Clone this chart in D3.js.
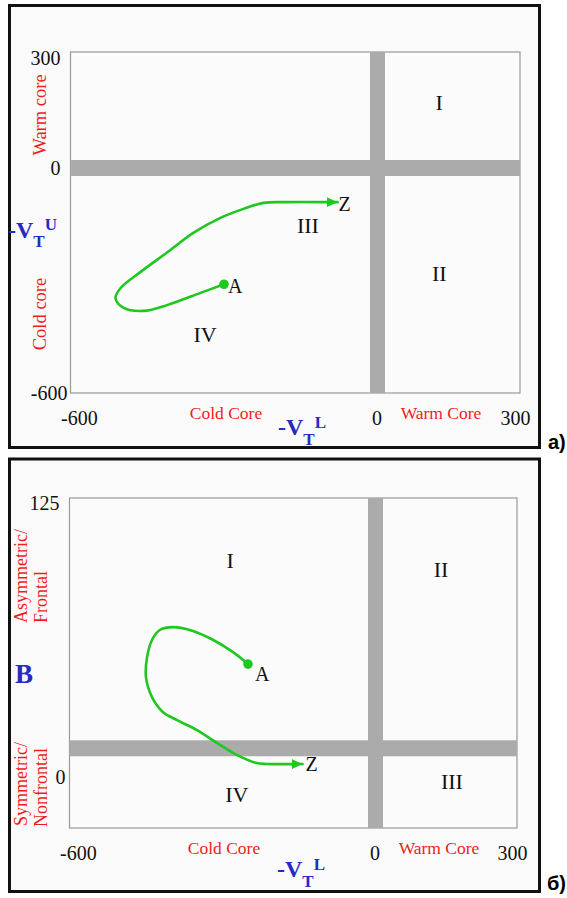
<!DOCTYPE html>
<html><head><meta charset="utf-8">
<script src="https://cdn.jsdelivr.net/npm/d3@7/dist/d3.min.js"></script>
<style>body{margin:0;background:#fff}svg{display:block}</style>
</head><body>
<svg id="c" width="567" height="898"></svg>
<script>
// ---------- data ----------
const xTicks = [-600, 0, 300];
const yTicksA = [-600, 0, 300];
const yTicksB = [0, 125];
const quadNames = ["I", "II", "III", "IV"];
// panel a: -VT^L vs -VT^U
const trackAx = [-300, -346, -410, -457, -496, -512, -502, -463, -410, -360, -307, -262, -223, -176, -92, -78];
const trackAy = [-310, -333, -365, -381, -373, -347, -320, -277, -224, -173, -133, -109, -93, -91, -91, -91];
const quadAx = [130, 130, -136, -337];
const quadAy = [170, -280, -152, -443];
const bandAx = 0, bandAy = 0;
// panel b: -VT^L vs B
const trackBx = [-250, -280, -319, -358, -397, -423, -438, -448, -450, -438, -417, -390, -350, -311, -272, -233, -213, -143];
const trackBy = [50, 55.5, 61, 65, 66.7, 65.4, 61, 53, 44, 35, 28.4, 24.8, 20.2, 14.4, 9, 5.3, 4.9, 4.9];
const quadBx = [-285, 139, 162, -272];
const quadBy = [97, 93, -3, -9];
const bandBx = 0, bandBy = 12;

// ---------- style ----------
const SERIF = "'Liberation Serif','Times New Roman',serif";
const RED = "#f01c1c", BLUE = "#2828c4", GREEN = "#1ec81e", BAND = "#ababab";
const fmt = d => String(d); // plain hyphen-minus as in the original

const svg = d3.select("#c");
svg.append("defs").append("marker")
  .attr("id", "arr").attr("markerUnits", "userSpaceOnUse")
  .attr("markerWidth", 12).attr("markerHeight", 10)
  .attr("refX", 11).attr("refY", 5).attr("orient", "auto")
  .append("path").attr("d", "M0,0L11,5L0,10Z").attr("fill", GREEN);

function panel(cfg) {
  const g = svg.append("g");
  // outer frame
  g.append("rect").attr("x", cfg.frame[0]).attr("y", cfg.frame[1])
    .attr("width", cfg.frame[2]).attr("height", cfg.frame[3])
    .attr("fill", "#fafafa").attr("stroke", "#111").attr("stroke-width", 3);
  const x = cfg.x, y = cfg.y;
  const [x0, x1] = [x.range()[0], x.range()[x.range().length - 1]];
  const yr = y.range();
  const [yb, yt] = [yr[0], yr[yr.length - 1]];
  // plot box
  g.append("rect").attr("x", x0).attr("y", yt).attr("width", x1 - x0).attr("height", yb - yt)
    .attr("fill", "#fbfbfb").attr("stroke", "#999").attr("stroke-width", 1.2);
  // bands
  g.append("rect").attr("x", x(cfg.bandX) - 7.5).attr("y", yt).attr("width", 15).attr("height", yb - yt)
    .attr("fill", BAND);
  g.append("rect").attr("x", x0).attr("y", y(cfg.bandY) - 8).attr("width", x1 - x0).attr("height", 16)
    .attr("fill", BAND);
  // axes
  const ax = g.append("g").attr("transform", `translate(0,${yb})`)
    .call(d3.axisBottom(x).tickValues(xTicks).tickSize(0).tickPadding(cfg.xPad).tickFormat(fmt));
  ax.select(".domain").remove();
  ax.selectAll("text").attr("font-family", SERIF).attr("font-size", 20).attr("fill", "#111")
    .attr("text-anchor", (d, i) => i === 0 ? "start" : i === xTicks.length - 1 ? "end" : "middle")
    .attr("dx", (d, i) => i === 0 ? -10 : i === xTicks.length - 1 ? 10 : -1);
  const ay = g.append("g").attr("transform", `translate(${x0},0)`)
    .call(d3.axisLeft(y).tickValues(cfg.yTicks).tickSize(0).tickPadding(10).tickFormat(fmt));
  ay.select(".domain").remove();
  ay.selectAll("text").attr("font-family", SERIF).attr("font-size", 20).attr("fill", "#111")
    .attr("dx", cfg.yDx).attr("dy", cfg.yDy);
  // Cold / Warm core labels
  [["Cold Core", cfg.coldX], ["Warm Core", cfg.warmX]].forEach(([t, px]) => {
    g.append("text").attr("x", px).attr("y", yb + 26).attr("text-anchor", "middle")
      .attr("font-family", SERIF).attr("font-size", 17.5).attr("fill", RED).text(t);
  });
  // x axis title -VT^L
  const xt = g.append("text").attr("x", cfg.xTitle[0]).attr("y", cfg.xTitle[1])
    .attr("font-family", SERIF).attr("font-weight", "bold").attr("fill", BLUE);
  xt.append("tspan").attr("font-size", 24).text("-V");
  xt.append("tspan").attr("font-size", 17).attr("dy", 10).text("T");
  xt.append("tspan").attr("font-size", 17).attr("dy", -17).text("L");
  // quadrant names
  quadNames.forEach((q, i) => {
    g.append("text").attr("x", x(cfg.qx[i])).attr("y", y(cfg.qy[i])).attr("dy", "0.35em")
      .attr("text-anchor", "middle").attr("font-family", SERIF).attr("font-size", 22)
      .attr("fill", "#111").text(q);
  });
  // trajectory
  const pts = cfg.tx.map((v, i) => [x(v), y(cfg.ty[i])]);
  g.append("path").attr("d", d3.line().curve(d3.curveCatmullRom.alpha(0.5))(pts))
    .attr("fill", "none").attr("stroke", GREEN).attr("stroke-width", 2.6)
    .attr("stroke-linecap", "round").attr("marker-end", "url(#arr)");
  g.append("circle").attr("cx", pts[0][0]).attr("cy", pts[0][1]).attr("r", 4.8).attr("fill", GREEN);
  const last = pts[pts.length - 1];
  g.append("text").attr("x", pts[0][0] + cfg.aOff[0]).attr("y", pts[0][1] + cfg.aOff[1]).attr("dy", "0.35em")
    .attr("font-family", SERIF).attr("font-size", 20).attr("fill", "#111").text("A");
  g.append("text").attr("x", last[0] + cfg.zOff[0]).attr("y", last[1] + cfg.zOff[1]).attr("dy", "0.35em")
    .attr("font-family", SERIF).attr("font-size", 20).attr("fill", "#111").text("Z");
  // panel tag
  svg.append("text").attr("x", cfg.tag[0]).attr("y", cfg.tag[1])
    .attr("font-family", "'Liberation Sans',Arial,sans-serif").attr("font-weight", "bold")
    .attr("font-size", 20).attr("fill", "#000").text(cfg.tagText);
  return g;
}

// ---------- panel a ----------
const xA = d3.scaleLinear().domain([-600, 0, 300]).range([70.5, 377.5, 520]);
const yA = d3.scaleLinear().domain([-600, 0, 300]).range([393, 168, 52]);
const gA = panel({
  frame: [9.5, 5.5, 530, 442], x: xA, y: yA, bandX: bandAx, bandY: bandAy,
  yTicks: yTicksA, xPad: 18, yDx: (d) => d === -600 ? 7 : 0, yDy: (d) => d === 300 ? "0.6em" : "0.32em",
  coldX: 226, warmX: 441, xTitle: [278, 435],
  qx: quadAx, qy: quadAy, tx: trackAx, ty: trackAy, aOff: [4, 2], zOff: [1, 2],
  tag: [548, 449], tagText: "a)"
});
// vertical labels panel a
[["Warm core", 115], ["Cold core", 314]].forEach(([t, cy]) => {
  gA.append("text").attr("transform", `translate(40,${cy}) rotate(-90)`).attr("dy", "0.35em")
    .attr("text-anchor", "middle").attr("font-family", SERIF).attr("font-size", 18.5)
    .attr("fill", RED).text(t);
});
const ytA = gA.append("text").attr("x", 8).attr("y", 238)
  .attr("font-family", SERIF).attr("font-weight", "bold").attr("fill", BLUE);
ytA.append("tspan").attr("font-size", 24).text("-V");
ytA.append("tspan").attr("font-size", 17).attr("dy", 9).text("T");
ytA.append("tspan").attr("font-size", 17).attr("dy", -17).text("U");

// ---------- panel b ----------
const xB = d3.scaleLinear().domain([-600, 0, 300]).range([69.5, 375.5, 517]);
const yB = d3.scaleLinear().domain([-24, 125]).range([828, 498]);
const gB = panel({
  frame: [9.5, 459, 530, 432.5], x: xB, y: yB, bandX: bandBx, bandY: bandBy,
  yTicks: yTicksB, xPad: 18, yDx: (d) => d === 0 ? 6 : 0, yDy: (d) => d === 125 ? "0.55em" : "0.45em",
  coldX: 224, warmX: 439, xTitle: [277, 877],
  qx: quadBx, qy: quadBy, tx: trackBx, ty: trackBy, aOff: [7, 10], zOff: [3, 0],
  tag: [547, 890], tagText: "б)"
});
[["Asymmetric/", 21, 623], ["Frontal", 41, 623], ["Symmetric/", 21, 826], ["Nonfrontal", 41, 827]]
  .forEach(([t, cx, cy]) => {
    gB.append("text").attr("transform", `translate(${cx},${cy}) rotate(-90)`).attr("dy", "0.35em")
      .attr("text-anchor", "start").attr("font-family", SERIF).attr("font-size", 18)
      .attr("fill", RED).text(t);
  });
gB.append("text").attr("x", 24).attr("y", 674).attr("dy", "0.35em").attr("text-anchor", "middle")
  .attr("font-family", SERIF).attr("font-weight", "bold").attr("font-size", 27)
  .attr("fill", BLUE).text("B");
</script>
</body></html>
